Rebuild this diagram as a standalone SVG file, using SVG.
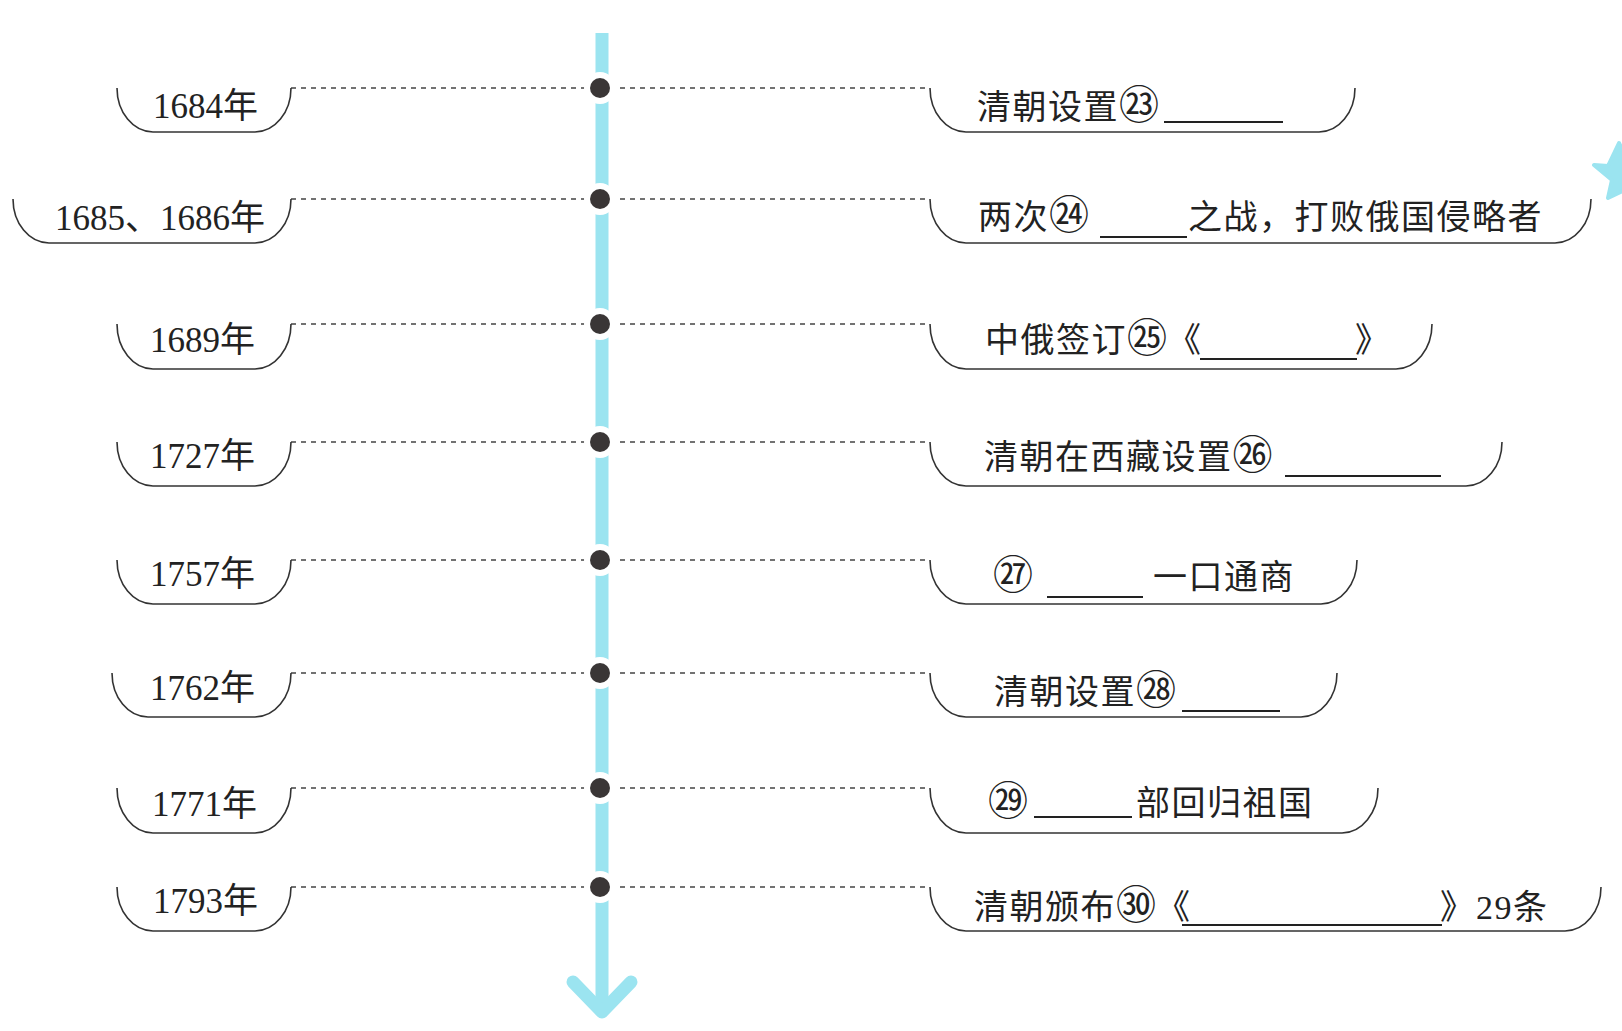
<svg xmlns="http://www.w3.org/2000/svg" width="1622" height="1031" viewBox="0 0 1622 1031">
<style>
.br{fill:none;stroke:#333;stroke-width:1.6}
.dash{fill:none;stroke:#444;stroke-width:1.4;stroke-dasharray:5 5}
.yr{font-family:"Liberation Serif","Noto Sans CJK SC",serif;font-size:35px;fill:#222}
.ev{font-family:"Liberation Serif","Noto Sans CJK SC",sans-serif;font-size:34px;fill:#222;letter-spacing:1.5px}
.cn{font-size:40px;letter-spacing:0}
.blank{stroke:#222;stroke-width:2}
.axis{stroke:#9be4f0;stroke-width:13;fill:none}
.ring{fill:#fff}
.dot{fill:#3a3636}
</style>
<rect width="1622" height="1031" fill="#fff"/>
<polygon id="star" points="1594,165 1608,166 1619,143 1626,157 1653,160 1640,177 1644,202 1625,190 1608,198 1612,180" fill="#9be4f0" stroke="#9be4f0" stroke-width="4" stroke-linejoin="round"/>
<g id="connectors">
<line class="dash" x1="291" y1="88" x2="600" y2="88"/><line class="dash" x1="600" y1="88" x2="928" y2="88"/>
<line class="dash" x1="291" y1="199" x2="600" y2="199"/><line class="dash" x1="600" y1="199" x2="928" y2="199"/>
<line class="dash" x1="291" y1="324" x2="600" y2="324"/><line class="dash" x1="600" y1="324" x2="928" y2="324"/>
<line class="dash" x1="291" y1="442" x2="600" y2="442"/><line class="dash" x1="600" y1="442" x2="928" y2="442"/>
<line class="dash" x1="291" y1="560" x2="600" y2="560"/><line class="dash" x1="600" y1="560" x2="928" y2="560"/>
<line class="dash" x1="291" y1="673" x2="600" y2="673"/><line class="dash" x1="600" y1="673" x2="928" y2="673"/>
<line class="dash" x1="291" y1="788" x2="600" y2="788"/><line class="dash" x1="600" y1="788" x2="928" y2="788"/>
<line class="dash" x1="291" y1="887" x2="600" y2="887"/><line class="dash" x1="600" y1="887" x2="928" y2="887"/>
</g>
<g id="timeline">
<line class="axis" x1="602" y1="33" x2="602" y2="1008"/>
<polyline class="axis" points="573,982 602,1012 631,982" stroke-linecap="round" stroke-linejoin="round"/>
<circle class="ring" cx="600" cy="88" r="16"/><circle class="dot" cx="600" cy="88" r="10"/>
<circle class="ring" cx="600" cy="199" r="16"/><circle class="dot" cx="600" cy="199" r="10"/>
<circle class="ring" cx="600" cy="324" r="16"/><circle class="dot" cx="600" cy="324" r="10"/>
<circle class="ring" cx="600" cy="442" r="16"/><circle class="dot" cx="600" cy="442" r="10"/>
<circle class="ring" cx="600" cy="560" r="16"/><circle class="dot" cx="600" cy="560" r="10"/>
<circle class="ring" cx="600" cy="673" r="16"/><circle class="dot" cx="600" cy="673" r="10"/>
<circle class="ring" cx="600" cy="788" r="16"/><circle class="dot" cx="600" cy="788" r="10"/>
<circle class="ring" cx="600" cy="887" r="16"/><circle class="dot" cx="600" cy="887" r="10"/>
</g>
<g id="y1684"><path class="br" d="M117,88 A36,44 0 0 0 153,132 L255,132 A36,44 0 0 0 291,88"/><text class="yr" x="153" y="118">1684年</text></g>
<g id="y1685"><path class="br" d="M13,199 A36,44 0 0 0 49,243 L255,243 A36,44 0 0 0 291,199"/><text class="yr" x="55" y="230">1685、1686年</text></g>
<g id="y1689"><path class="br" d="M117,324 A36,45 0 0 0 153,369 L255,369 A36,45 0 0 0 291,324"/><text class="yr" x="150" y="352">1689年</text></g>
<g id="y1727"><path class="br" d="M117,442 A36,44 0 0 0 153,486 L255,486 A36,44 0 0 0 291,442"/><text class="yr" x="150" y="468">1727年</text></g>
<g id="y1757"><path class="br" d="M117,560 A36,44 0 0 0 153,604 L255,604 A36,44 0 0 0 291,560"/><text class="yr" x="150" y="586">1757年</text></g>
<g id="y1762"><path class="br" d="M112,673 A36,44 0 0 0 148,717 L255,717 A36,44 0 0 0 291,673"/><text class="yr" x="150" y="700">1762年</text></g>
<g id="y1771"><path class="br" d="M117,788 A36,45 0 0 0 153,833 L255,833 A36,45 0 0 0 291,788"/><text class="yr" x="152" y="816">1771年</text></g>
<g id="y1793"><path class="br" d="M117,887 A36,44 0 0 0 153,931 L255,931 A36,44 0 0 0 291,887"/><text class="yr" x="153" y="913">1793年</text></g>
<g id="e23"><path class="br" d="M930,88 A36,44 0 0 0 966,132 L1319,132 A36,44 0 0 0 1355,88"/><text class="ev" x="977" y="119">清朝设置<tspan class="cn">㉓</tspan></text><line class="blank" x1="1164" y1="122" x2="1283" y2="122"/></g>
<g id="e24"><path class="br" d="M930,199 A36,44 0 0 0 966,243 L1555,243 A36,44 0 0 0 1591,199"/><text class="ev" x="978" y="229">两次<tspan class="cn">㉔</tspan></text><line class="blank" x1="1100" y1="237" x2="1187" y2="237"/><text class="ev" x="1188" y="229">之战，打败俄国侵略者</text></g>
<g id="e25"><path class="br" d="M930,324 A36,45 0 0 0 966,369 L1396,369 A36,45 0 0 0 1432,324"/><text class="ev" x="985" y="352">中俄签订<tspan class="cn">㉕</tspan>《</text><line class="blank" x1="1200" y1="359" x2="1357" y2="359"/><text class="ev" x="1355" y="352">》</text></g>
<g id="e26"><path class="br" d="M930,442 A36,44 0 0 0 966,486 L1466,486 A36,44 0 0 0 1502,442"/><text class="ev" x="984" y="469">清朝在西藏设置<tspan class="cn">㉖</tspan></text><line class="blank" x1="1285" y1="476" x2="1441" y2="476"/></g>
<g id="e27"><path class="br" d="M930,560 A36,44 0 0 0 966,604 L1321,604 A36,44 0 0 0 1357,560"/><text class="ev" x="993" y="589"><tspan class="cn">㉗</tspan></text><line class="blank" x1="1047" y1="597" x2="1143" y2="597"/><text class="ev" x="1153" y="589">一口通商</text></g>
<g id="e28"><path class="br" d="M930,673 A36,44 0 0 0 966,717 L1301,717 A36,44 0 0 0 1337,673"/><text class="ev" x="994" y="704">清朝设置<tspan class="cn">㉘</tspan></text><line class="blank" x1="1182" y1="711" x2="1280" y2="711"/></g>
<g id="e29"><path class="br" d="M930,788 A36,45 0 0 0 966,833 L1342,833 A36,45 0 0 0 1378,788"/><text class="ev" x="988" y="815"><tspan class="cn">㉙</tspan></text><line class="blank" x1="1034" y1="817" x2="1132" y2="817"/><text class="ev" x="1136" y="815">部回归祖国</text></g>
<g id="e30"><path class="br" d="M930,887 A36,44 0 0 0 966,931 L1565,931 A36,44 0 0 0 1601,887"/><text class="ev" x="974" y="919">清朝颁布<tspan class="cn">㉚</tspan>《</text><line class="blank" x1="1182" y1="925" x2="1442" y2="925"/><text class="ev" x="1440" y="919">》</text><text class="ev" x="1476" y="919">29条</text></g>
</svg>
